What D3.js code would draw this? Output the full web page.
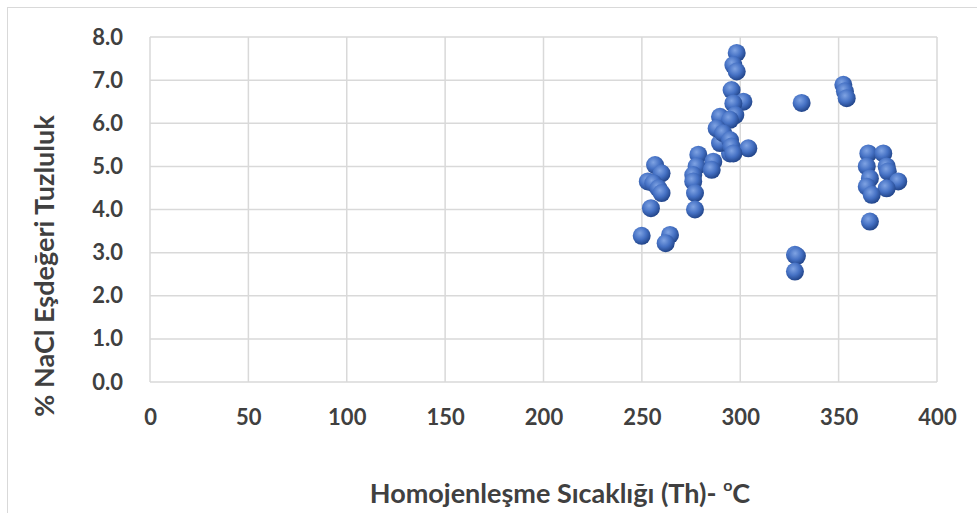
<!DOCTYPE html>
<html>
<head>
<meta charset="utf-8">
<script src="https://cdnjs.cloudflare.com/ajax/libs/d3/7.8.5/d3.min.js"></script>
<style>
  body { margin: 0; background: #fff; }
  text { font-family: Lato, "Open Sans", sans-serif; font-weight: bold; fill: #404040; }
</style>
</head>
<body>
<svg width="977" height="513"></svg>
<script>
// Homogenization temperature (°C)
var thValues = [
  256.7, 260.0, 253.0, 255.8, 258.4, 260.0, 254.6, 249.9, 264.3, 262.1,
  278.7, 277.8, 286.3, 285.5, 276.1, 276.1, 277.0, 277.0, 294.8, 289.7,
  298.2, 296.5, 298.2, 295.6, 301.6, 296.5, 297.5, 289.7, 294.8, 288.0,
  291.3, 294.8, 295.6, 304.1, 296.5,
  331.2, 352.4, 353.2, 354.1, 327.8, 328.8, 327.8,
  365.1, 372.7, 364.3, 374.4, 375.0, 365.9, 380.3, 364.3, 374.4, 366.8, 365.9
];
// Equivalent salinity (% NaCl)
var salinity = [
  5.03, 4.84, 4.65, 4.61, 4.49, 4.38, 4.03, 3.39, 3.41, 3.22,
  5.27, 5.00, 5.11, 4.92, 4.80, 4.65, 4.38, 4.00, 5.30, 5.54,
  7.63, 7.35, 7.20, 6.77, 6.50, 6.46, 6.19, 6.15, 6.08, 5.88,
  5.77, 5.61, 5.46, 5.42, 5.30,
  6.47, 6.89, 6.74, 6.58, 2.95, 2.92, 2.56,
  5.30, 5.30, 5.00, 5.00, 4.88, 4.72, 4.65, 4.53, 4.49, 4.34, 3.72
];
var xTicks = [0, 50, 100, 150, 200, 250, 300, 350, 400];
var yTicks = [0, 1, 2, 3, 4, 5, 6, 7, 8];

var svg = d3.select("svg");

// outer chart frame
svg.append("rect")
  .attr("x", 7.5).attr("y", 7.5)
  .attr("width", 1000).attr("height", 1000)
  .attr("fill", "none").attr("stroke", "#d9d9d9");

var x = d3.scaleLinear().domain([0, 400]).range([150, 937]);
var y = d3.scaleLinear().domain([0, 8]).range([382, 37]);

var defs = svg.append("defs");
var grad = defs.append("radialGradient")
  .attr("id", "ball").attr("cx", "40%").attr("cy", "35%").attr("r", "65%");
grad.append("stop").attr("offset", "0%").attr("stop-color", "#7fa3e3");
grad.append("stop").attr("offset", "55%").attr("stop-color", "#4571c4");
grad.append("stop").attr("offset", "100%").attr("stop-color", "#22458a");

// grid
svg.append("g").selectAll("line").data(xTicks).enter().append("line")
  .attr("x1", function(d) { return x(d); }).attr("x2", function(d) { return x(d); })
  .attr("y1", y(8)).attr("y2", y(0))
  .attr("stroke", "#d9d9d9").attr("stroke-width", 1.5);
svg.append("g").selectAll("line").data(yTicks).enter().append("line")
  .attr("x1", x(0)).attr("x2", x(400))
  .attr("y1", function(d) { return y(d); }).attr("y2", function(d) { return y(d); })
  .attr("stroke", "#d9d9d9").attr("stroke-width", 1.5);

// axes (labels only)
var xAxis = svg.append("g")
  .attr("transform", "translate(0," + (y(0) + 24) + ")")
  .call(d3.axisBottom(x).tickValues(xTicks).tickSize(0).tickFormat(d3.format("d")));
xAxis.select(".domain").remove();
xAxis.selectAll("text").attr("font-size", 22).attr("dy", "0.71em")
  .style("font-family", "Lato, sans-serif").attr("fill", "#404040");

var yAxis = svg.append("g")
  .attr("transform", "translate(" + (x(0) - 24) + ",0)")
  .call(d3.axisLeft(y).tickValues(yTicks).tickSize(0).tickFormat(d3.format(".1f")));
yAxis.select(".domain").remove();
yAxis.selectAll("text").attr("font-size", 22)
  .style("font-family", "Lato, sans-serif").attr("fill", "#404040");

// points
var pts = d3.zip(thValues, salinity);
svg.append("g").selectAll("circle").data(pts).enter().append("circle")
  .attr("cx", function(d) { return x(d[0]); })
  .attr("cy", function(d) { return y(d[1]); })
  .attr("r", 9)
  .attr("fill", "url(#ball)");

// titles
var xt = svg.append("text")
  .attr("x", 560).attr("y", 503)
  .attr("text-anchor", "middle").attr("font-size", 27)
  .text("Homojenleşme Sıcaklığı (Th)- ");
xt.append("tspan").attr("font-size", 16).attr("dy", -12).text("o");
xt.append("tspan").attr("dy", 12).text("C");

svg.append("text")
  .attr("transform", "translate(54,266) rotate(-90)")
  .attr("text-anchor", "middle").attr("font-size", 27)
  .text("% NaCl Eşdeğeri Tuzluluk");
</script>
</body>
</html>
